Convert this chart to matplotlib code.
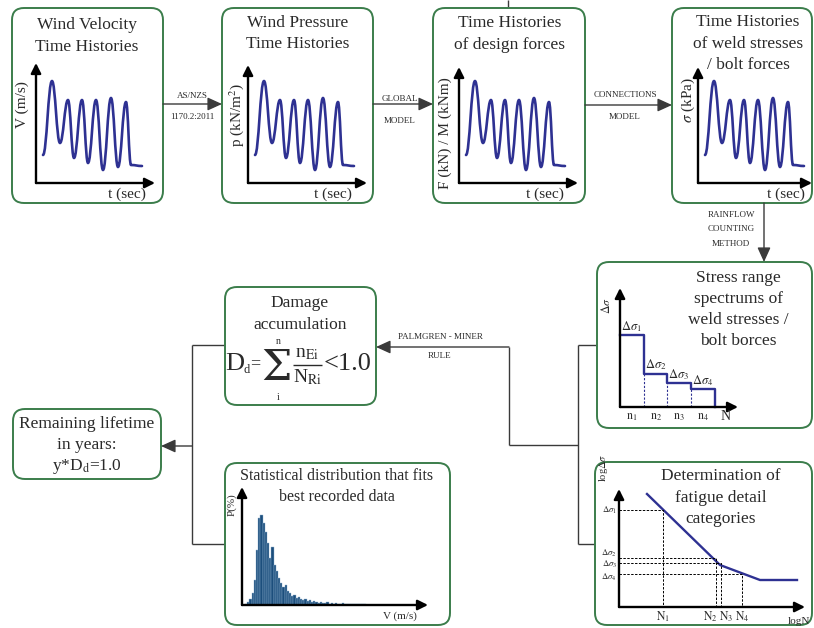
import numpy as np
import matplotlib
matplotlib.use('Agg')
import matplotlib.pyplot as plt
from matplotlib.patches import FancyBboxPatch, PathPatch
from matplotlib.path import Path

plt.rcParams['font.family'] = ['Liberation Serif', 'DejaVu Serif']
plt.rcParams['mathtext.fontset'] = 'stix'

W, H = 814, 628

# ---------------- data ----------------
# schematic time-history (same shape in the four top panels): time, amplitude
wave_t = [7, 16, 24, 32, 38, 46, 52, 60, 67, 75, 82, 90, 95, 106]
wave_v = [28, 102, 40, 83, 25, 83, 20, 83, 13, 85, 16, 81, 18, 17]

# stress range spectrum (step chart)
step_edges = [0, 24, 47, 71, 95]
step_levels = [72, 33, 24, 18]
step_labels = [r'$\Delta\sigma_1$', r'$\Delta\sigma_2$', r'$\Delta\sigma_3$', r'$\Delta\sigma_4$']
count_labels = [r'$\mathrm{n}_1$', r'$\mathrm{n}_2$', r'$\mathrm{n}_3$', r'$\mathrm{n}_4$']

# S-N curve (log N, log delta sigma)
sn_logN = [28, 101, 141, 178]
sn_logS = [113, 42, 27, 27]
sn_mark_N = [44, 97, 102, 123]
sn_mark_S = [97, 49, 44, 33]
sn_S_labels = [r'$\Delta\sigma_1$', r'$\Delta\sigma_2$', r'$\Delta\sigma_3$', r'$\Delta\sigma_4$']
sn_N_labels = [r'$\mathrm{N}_1$', r'$\mathrm{N}_2$', r'$\mathrm{N}_3$', r'$\mathrm{N}_4$']

# histogram of recorded wind speed (probability per bin)
hist_p = [1, 3, 6, 12, 25, 55, 87, 90, 82, 73, 62, 47, 58, 40, 34, 27, 22, 18,
          20, 14, 12, 9, 10, 7, 8, 6, 5, 6, 4, 5, 3, 4, 3, 2, 3, 2, 2, 3, 1, 2,
          1, 2, 1, 1, 2, 1, 1, 1, 1, 1, 1, 1, 1, 1, 1]

# ---------------- styling ----------------
GREEN = '#3b7d4b'
BLUE = '#2e3192'
LINE = '#3a3a3a'
TXT = '#2a2a2a'

fig = plt.figure(figsize=(W / 100, H / 100), dpi=100)
ax = fig.add_axes([0, 0, 1, 1])
ax.set_xlim(0, W)
ax.set_ylim(H, 0)
ax.axis('off')


def box(x0, y0, x1, y1, r=12):
    p = FancyBboxPatch((x0, y0), x1 - x0, y1 - y0,
                       boxstyle=f'round,pad=0,rounding_size={r}',
                       fc='white', ec=GREEN, lw=1.4, zorder=2)
    ax.add_patch(p)


def txt(x, y, s, size=12.5, **kw):
    kw.setdefault('ha', 'center')
    kw.setdefault('va', 'center')
    ax.text(x, y, s, fontsize=size, color=TXT, zorder=5, **kw)


def arrow(x0, y0, x1, y1, ms=16, lw=1.0, color=LINE):
    ax.annotate('', xy=(x1, y1), xytext=(x0, y0),
                arrowprops=dict(arrowstyle='-|>,head_length=0.55,head_width=0.25',
                                color=color, lw=lw, shrinkA=0, shrinkB=0,
                                mutation_scale=ms), zorder=4)


def line(xs, ys, lw=1.0, color=LINE, z=1):
    ax.plot(xs, ys, color=color, lw=lw, zorder=z, solid_capstyle='butt')


def inset(ox, oy, w, h):
    a = fig.add_axes([ox / W, (H - oy) / H, w / W, h / H])
    a.set_xlim(0, w)
    a.set_ylim(0, h)
    a.axis('off')
    a.patch.set_alpha(0)
    for tip in [(0, 1), (1, 0)]:
        a.annotate('', xy=tip, xytext=(0, 0), xycoords='axes fraction',
                   arrowprops=dict(arrowstyle='-|>,head_length=0.6,head_width=0.3',
                                   color='black', lw=1.7, shrinkA=0, shrinkB=0,
                                   mutation_scale=10))
    return a


def wave(a):
    verts = [(wave_t[0], wave_v[0])]
    codes = [Path.MOVETO]
    for i in range(1, len(wave_t)):
        xa, ya = wave_t[i - 1], wave_v[i - 1]
        xb, yb = wave_t[i], wave_v[i]
        d = 0.42 * (xb - xa)
        verts += [(xa + d, ya), (xb - d, yb), (xb, yb)]
        codes += [Path.CURVE4] * 3
    a.add_patch(PathPatch(Path(verts, codes), fc='none', ec=BLUE, lw=1.9,
                          clip_on=False, capstyle='round', joinstyle='round'))


# ---------------- top row ----------------
box(12, 8, 163, 203)
txt(87, 25, 'Wind Velocity')
txt(87, 47, 'Time Histories')
wave(inset(36, 183, 119, 120))
txt(22, 105, 'V (m/s)', size=11, rotation=90)
txt(127, 194, 't (sec)', size=11)

box(222, 8, 373, 203)
txt(298, 23, 'Wind Pressure')
txt(298, 44, 'Time Histories')
wave(inset(248, 183, 119, 118))
txt(237, 115, r'p (kN/m$^2$)', size=11, rotation=90)
txt(333, 194, 't (sec)', size=11)

box(433, 8, 585, 203)
txt(510, 23, 'Time Histories')
txt(510, 45, 'of design forces')
wave(inset(459, 183, 119, 116))
txt(445, 133, 'F (kN) / M (kNm)', size=11, rotation=90)
txt(545, 194, 't (sec)', size=11)

box(672, 8, 812, 203)
txt(748, 22, 'Time Histories')
txt(748, 44, 'of weld stresses')
txt(748, 65, '/ bolt forces')
wave(inset(698, 183, 114, 116))
txt(688, 100, r'$\sigma$ (kPa)', size=11, rotation=90)
txt(786, 194, 't (sec)', size=11)

line([508, 508], [0, 7])

arrow(163, 104, 222, 104)
txt(192, 96, 'AS/NZS', size=6.5)
txt(192, 117, '1170.2:2011', size=6.5)
arrow(373, 104, 433, 104)
txt(400, 99, 'GLOBAL', size=6.5)
txt(400, 121, 'MODEL', size=6.5)
arrow(585, 105, 672, 105)
txt(625, 95, 'CONNECTIONS', size=6.5)
txt(625, 117, 'MODEL', size=6.5)

arrow(764, 203, 764, 262)
txt(731, 215, 'RAINFLOW', size=6.5)
txt(731, 229, 'COUNTING', size=6.5)
txt(731, 244, 'METHOD', size=6.5)

# ---------------- stress range spectrum ----------------
box(597, 262, 812, 428)
txt(738, 278, 'Stress range')
txt(738, 299, 'spectrums of')
txt(738, 320, 'weld stresses /')
txt(738, 341, 'bolt borces')
a5 = inset(620, 407, 118, 119)
sx, sy = [step_edges[0]], [step_levels[0]]
for i, lev in enumerate(step_levels):
    sx += [step_edges[i], step_edges[i + 1]]
    sy += [lev, lev]
sx += [step_edges[-1]]
sy += [0]
a5.plot(sx, sy, color=BLUE, lw=1.7, clip_on=False)
for i in range(1, len(step_levels)):
    a5.plot([step_edges[i], step_edges[i]], [0, step_levels[i]], color=BLUE,
            lw=0.8, ls=(0, (2, 1.5)))
for i, lab in enumerate(step_labels):
    a5.text(step_edges[i] + 1, step_levels[i] + 1.5, lab, fontsize=9,
            ha='left', va='bottom', color=TXT)
    a5.text((step_edges[i] + step_edges[i + 1]) / 2, -4, count_labels[i],
            fontsize=8.5, ha='center', va='top', color=TXT)
a5.text(106, -3, 'N', fontsize=10, ha='center', va='top', color=TXT)
txt(607, 306, r'$\Delta\sigma$', size=8.5, rotation=90)

# ---------------- S-N curve ----------------
box(595, 462, 812, 625)
txt(721, 476, 'Determination of')
txt(721, 498, 'fatigue detail')
txt(721, 519, 'categories')
a6 = inset(619, 607, 186, 118)
a6.plot(sn_logN, sn_logS, color=BLUE, lw=1.7, clip_on=False)
for n, s in zip(sn_mark_N, sn_mark_S):
    a6.plot([0, n, n], [s, s, 0], color='black', lw=0.7, ls=(0, (2.5, 1.5)))
s_dy = [0, 4.5, -1.5, -3]
for s, sl, dy in zip(sn_mark_S, sn_S_labels, s_dy):
    a6.text(-2, s + dy, sl, fontsize=6.3, ha='right', va='center', color=TXT)
n_ha = ['center', 'right', 'left', 'center']
n_dx = [0, 2, -2, 0]
for n, nl, h, dx in zip(sn_mark_N, sn_N_labels, n_ha, n_dx):
    a6.text(n + dx, -3, nl, fontsize=8.5, ha=h, va='top', color=TXT)
txt(799, 621, 'logN', size=8)
txt(604, 468, r'log$\Delta\sigma$', size=7.5, rotation=90)

# ---------------- connectors middle ----------------
line([578, 597], [345, 345])
line([578, 578], [345, 544])
line([578, 595], [544, 544])
line([509, 578], [445, 445])
line([509, 509], [347, 445])
arrow(509, 347, 376, 347)
txt(440, 337, 'PALMGREN - MINER', size=6.5)
txt(440, 356, 'RULE', size=6.5)

# ---------------- damage accumulation ----------------
box(225, 287, 376, 405)
txt(300, 303, 'Damage')
txt(300, 325, 'accumulation')
# formula D_d = sum_i^n n_Ei / N_Ri < 1.0
txt(235, 364, 'D', size=19)
txt(247, 370, 'd', size=9)
txt(255, 364, '=', size=13)
txt(276, 368, '\u03A3', size=31, family=['DejaVu Serif'])
txt(278, 341, 'n', size=7)
txt(278, 397, 'i', size=7)
txt(307, 353, r'n$_{\mathrm{Ei}}$', size=14)
line([293, 322], [365, 365], lw=1.0, color=TXT, z=5)
txt(307, 377, r'N$_{\mathrm{Ri}}$', size=14)
txt(348, 364, '<1.0', size=19)

# ---------------- statistical distribution ----------------
box(225, 463, 450, 625)
txt(337, 476, 'Statistical distribution that fits', size=11.5)
txt(337, 497, 'best recorded data', size=11.5)
a7 = inset(242, 605, 186, 118)
a7.set_xlim(-1.9, -1.9 + 186 / 2.2)
a7.bar(np.arange(len(hist_p)), hist_p, width=1.0, color='#1c4e7c',
       edgecolor='#8fb1cf', lw=0.3)
txt(232, 505, 'P(%)', size=8, rotation=90)
txt(400, 616, 'V (m/s)', size=8)

# ---------------- left connectors & result ----------------
line([192, 225], [345, 345])
line([192, 192], [345, 544])
line([192, 225], [544, 544])
arrow(192, 446, 161, 446)

box(13, 409, 161, 479)
txt(87, 424, 'Remaining lifetime')
txt(87, 445, 'in years:')
txt(87, 466, r'y*D$_\mathrm{d}$=1.0')

fig.savefig('out.png', dpi=100)
